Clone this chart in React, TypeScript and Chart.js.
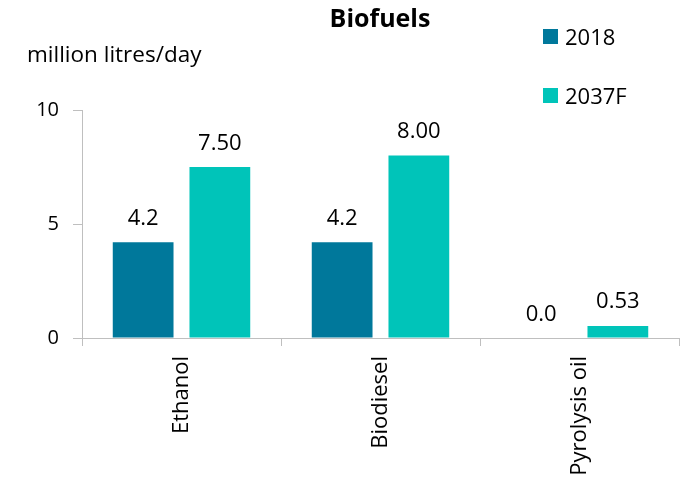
import React, { useEffect, useRef } from "react";
import { Chart, registerables } from "chart.js";

Chart.register(...registerables);

const categories = ["Ethanol", "Biodiesel", "Pyrolysis oil"];
const seriesNames = ["2018", "2037F"];
const values2018 = [4.2, 4.2, 0.0];
const values2037F = [7.5, 8.0, 0.53];
const labelDecimals = [1, 2];
const yTicks = [0, 5, 10];
const titleText = "Biofuels";
const unitText = "million litres/day";

const colors = ["#00789B", "#00C4B9"];
const FONT = "'Open Sans', 'DejaVu Sans', sans-serif";

const overlayPlugin = {
  id: "overlay",
  afterDatasetsDraw(chart: any) {
    const ctx = chart.ctx;
    ctx.save();
    // data labels
    ctx.fillStyle = "#000";
    ctx.font = `22px ${FONT}`;
    ctx.textAlign = "center";
    ctx.textBaseline = "alphabetic";
    chart.data.datasets.forEach((ds: any, di: number) => {
      const meta = chart.getDatasetMeta(di);
      meta.data.forEach((bar: any, i: number) => {
        const v = ds.data[i];
        ctx.fillText(Number(v).toFixed(labelDecimals[di]), bar.x, bar.y - 17.5);
      });
    });
    // title
    ctx.font = `bold 25px ${FONT}`;
    ctx.textAlign = "center";
    ctx.fillText(titleText, 380, 27);
    // unit label
    ctx.font = `22.5px ${FONT}`;
    ctx.textAlign = "left";
    ctx.fillText(unitText, 27, 62);
    // legend
    const legendY = [29, 88];
    ctx.font = `22px ${FONT}`;
    seriesNames.forEach((name, i) => {
      ctx.fillStyle = colors[i];
      ctx.fillRect(543, legendY[i], 15, 15);
      ctx.fillStyle = "#000";
      ctx.fillText(name, 565, legendY[i] + 16);
    });
    ctx.restore();
  },
};

export default function App() {
  const ref = useRef<HTMLCanvasElement | null>(null);
  useEffect(() => {
    if (!ref.current) return;
    const chart = new Chart(ref.current, {
      type: "bar",
      data: {
        labels: categories,
        datasets: [
          {
            label: seriesNames[0],
            data: values2018,
            backgroundColor: colors[0],
            categoryPercentage: 0.771,
            barPercentage: 0.792,
          },
          {
            label: seriesNames[1],
            data: values2037F,
            backgroundColor: colors[1],
            categoryPercentage: 0.771,
            barPercentage: 0.792,
          },
        ],
      },
      options: {
        responsive: false,
        animation: false,
        devicePixelRatio: 1,
        layout: { padding: { left: 0, right: 13, top: 110, bottom: 0 } },
        plugins: {
          legend: { display: false },
          title: { display: false },
          tooltip: { enabled: false },
        },
        scales: {
          x: {
            offset: true,
            grid: {
              offset: true,
              drawOnChartArea: false,
              drawTicks: true,
              tickLength: 8,
              color: "#BFBFBF",
            },
            border: { display: true, color: "#BFBFBF", width: 1 },
            ticks: {
              autoSkip: false,
              minRotation: 90,
              maxRotation: 90,
              padding: 10,
              color: "#000",
              font: { family: FONT, size: 22 },
            },
            afterFit(scale: any) {
              scale.height = 147;
            },
          },
          y: {
            min: 0,
            max: 10,
            afterBuildTicks(scale: any) {
              scale.ticks = yTicks.map((v) => ({ value: v }));
            },
            grid: {
              drawOnChartArea: false,
              drawTicks: true,
              tickLength: 9,
              color: "#BFBFBF",
            },
            border: { display: true, color: "#BFBFBF", width: 1 },
            ticks: {
              padding: 14,
              color: "#000",
              font: { family: FONT, size: 20 },
            },
            afterFit(scale: any) {
              scale.width = 82;
            },
          },
        },
      },
      plugins: [overlayPlugin],
    } as any);
    return () => chart.destroy();
  }, []);
  return (
    <div style={{ position: "absolute", left: 0, top: 0, width: 692, height: 485, background: "#fff" }}>
      <canvas ref={ref} width={692} height={485} />
    </div>
  );
}
